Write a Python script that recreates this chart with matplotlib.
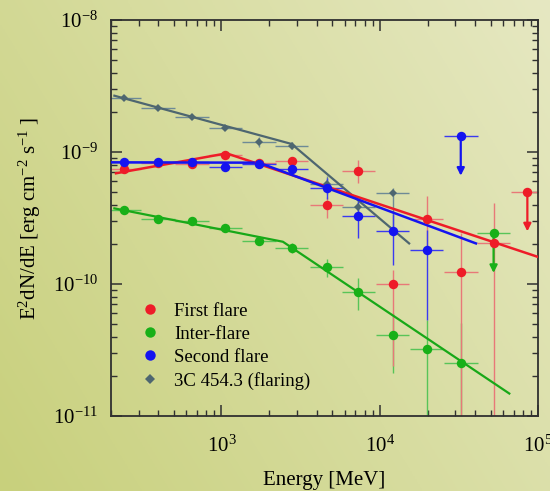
import numpy as np
import matplotlib
matplotlib.use("Agg")
import matplotlib.pyplot as plt
from matplotlib.lines import Line2D
from matplotlib.colors import to_rgb

plt.rcParams['font.family'] = ['Liberation Serif', 'DejaVu Serif']
plt.rcParams['mathtext.fontset'] = 'custom'
plt.rcParams['mathtext.rm'] = 'Liberation Serif'
plt.rcParams['mathtext.it'] = 'Liberation Serif:italic'
plt.rcParams['mathtext.bf'] = 'Liberation Serif:bold'

# ---------------- data ----------------
bin_half_dex = 0.106  # half width of energy bins (log10)

# First flare
red_E = [244, 398, 653, 1060, 1730, 2770, 4610, 7310, 12050, 19700, 32400, 52200]
red_F = [7.43e-10, 8.2e-10, 8.1e-10, 9.49e-10, 8.2e-10, 8.55e-10, 3.96e-10, 7.18e-10,
         1.0e-10, 3.13e-10, 1.23e-10, 2.03e-10]
red_lo = [7.1e-10, 7.9e-10, 7.8e-10, 9.1e-10, 7.8e-10, 7.9e-10, 3.15e-10, 5.79e-10,
          2.4e-11, 1.9e-10, 1e-12, 1e-12]
red_hi = [7.8e-10, 8.5e-10, 8.4e-10, 9.9e-10, 8.6e-10, 9.2e-10, 4.58e-10, 8.69e-10,
          1.28e-10, 4.65e-10, 2.42e-10, 4.08e-10]
red_ul_E = [85300]
red_ul_F = [5.0e-10]

# Inter-flare
green_E = [244, 398, 653, 1060, 1730, 2770, 4610, 7310, 12050, 19700, 32400]
green_F = [3.66e-10, 3.09e-10, 3.0e-10, 2.65e-10, 2.12e-10, 1.88e-10, 1.35e-10, 8.75e-11,
           4.13e-11, 3.2e-11, 2.5e-11]
green_lo = [3.55e-10, 2.98e-10, 2.88e-10, 2.53e-10, 1.98e-10, 1.72e-10, 1.13e-10, 6.3e-11,
            2.1e-11, 1e-12, 1e-12]
green_hi = [3.78e-10, 3.2e-10, 3.12e-10, 2.78e-10, 2.27e-10, 2.05e-10, 1.55e-10, 1.12e-10,
            6.0e-11, 5.33e-11, 5.03e-11]
green_ul_E = [52200]
green_ul_F = [2.42e-10]

# Second flare
blue_E = [244, 398, 653, 1060, 1730, 2770, 4610, 7310, 12050, 19700]
blue_F = [8.39e-10, 8.36e-10, 8.36e-10, 7.74e-10, 8.15e-10, 7.43e-10, 5.31e-10, 3.29e-10,
          2.54e-10, 1.81e-10]
blue_lo = [8.1e-10, 8.05e-10, 8.05e-10, 7.4e-10, 7.75e-10, 6.9e-10, 4.4e-10, 2.22e-10,
           1.4e-10, 5.3e-11]
blue_hi = [8.7e-10, 8.67e-10, 8.67e-10, 8.1e-10, 8.55e-10, 8.0e-10, 6.3e-10, 4.32e-10,
           3.4e-10, 2.56e-10]
blue_ul_E = [32400]
blue_ul_F = [1.32e-9]

# 3C 454.3 (flaring)
gray_E = [244, 398, 653, 1060, 1730, 2770, 4610, 7310, 12050]
gray_F = [2.56e-9, 2.15e-9, 1.85e-9, 1.53e-9, 1.20e-9, 1.12e-9, 5.73e-10, 3.81e-10, 4.87e-10]
gray_lo = [2.48e-9, 2.08e-9, 1.79e-9, 1.47e-9, 1.10e-9, 1.05e-9, 4.8e-10, 3.2e-10, 2.65e-10]
gray_hi = [2.64e-9, 2.22e-9, 1.91e-9, 1.59e-9, 1.31e-9, 1.19e-9, 6.6e-10, 4.5e-10, 5.3e-10]

# broken power-law fits (start, break, end)
red_fit_E = [216, 1077, 98600]
red_fit_F = [6.9e-10, 9.77e-10, 1.61e-10]
blue_fit_E = [200, 1726, 40400]
blue_fit_F = [8.35e-10, 8.3e-10, 2.03e-10]
gray_fit_E = [211, 2773, 15300]
gray_fit_F = [2.67e-9, 1.15e-9, 2.03e-10]
green_fit_E = [211, 2443, 65600]
green_fit_F = [3.74e-10, 2.09e-10, 1.48e-11]

labels = ["First flare", "Inter-flare", "Second flare", "3C 454.3 (flaring)"]

# ---------------- figure ----------------
W, H = 550, 491
fig = plt.figure(figsize=(W / 100, H / 100), dpi=100)

# background gradient
bg = fig.add_axes([0, 0, 1, 1], zorder=-10)
nx, ny = 220, 200
xx, yy = np.meshgrid(np.linspace(0, 1, nx), np.linspace(0, 1, ny))
t = np.clip(0.65 * xx + 0.35 * yy, 0, 1)
c0 = np.array(to_rgb('#c8d07c'))
c1 = np.array(to_rgb('#e6e8c2'))
img = c0[None, None, :] * (1 - t[..., None]) + c1[None, None, :] * t[..., None]
bg.imshow(img, origin='lower', extent=[0, 1, 0, 1], aspect='auto')
bg.set_axis_off()

ax = fig.add_axes([110.7 / W, 1 - 416 / H, (538.3 - 110.7) / W, (416 - 20) / H])
ax.patch.set_alpha(0)
ax.set_xscale('log')
ax.set_yscale('log')
ax.set_xlim(200, 1e5)
ax.set_ylim(1e-11, 1e-8)

colors = {
    'red': ('#ee1c28', '#e87878'),
    'green': ('#18b018', '#58c458'),
    'blue': ('#1414f0', '#3a3af0'),
    'gray': ('#4e6670', '#6e8a96'),
}

fac = 10 ** bin_half_dex


def draw_points(E, F, lo, hi, ckey, marker, ms):
    E = np.asarray(E, float)
    F = np.asarray(F, float)
    lo = np.asarray(lo, float)
    hi = np.asarray(hi, float)
    c, ce = colors[ckey]
    ax.errorbar(E, F, xerr=[E - E / fac, E * fac - E], yerr=[F - lo, hi - F],
                fmt='none', ecolor=ce, elinewidth=1.0, capsize=0, zorder=2)
    ax.plot(E, F, linestyle='none', marker=marker, ms=ms, color=c,
            markeredgewidth=0, zorder=4)


def draw_ul(E, F, ckey, ms=6.8):
    c, ce = colors[ckey]
    E = np.asarray(E, float)
    F = np.asarray(F, float)
    ax.errorbar(E, F, xerr=[E - E / fac, E * fac - E], fmt='none', ecolor=ce,
                elinewidth=1.0, capsize=0, zorder=2)
    for e, f in zip(E, F):
        ax.annotate('', xy=(e, f / 10 ** 0.30), xytext=(e, f),
                    arrowprops=dict(arrowstyle='-|>', color=c, lw=1.6,
                                    mutation_scale=11, shrinkA=0, shrinkB=0),
                    zorder=3)
    ax.plot(E, F, linestyle='none', marker='o', ms=ms, color=c,
            markeredgewidth=0, zorder=4)


# fit lines
ax.plot(green_fit_E, green_fit_F, color='#18a818', lw=1.6, zorder=3)
ax.plot(gray_fit_E, gray_fit_F, color=colors['gray'][0], lw=1.6, zorder=3)
ax.plot(red_fit_E, red_fit_F, color='#ee1c28', lw=1.8, zorder=3)
ax.plot(blue_fit_E, blue_fit_F, color='#1414f0', lw=1.8, zorder=3)

draw_points(gray_E, gray_F, gray_lo, gray_hi, 'gray', 'D', 4.2)
draw_points(green_E, green_F, green_lo, green_hi, 'green', 'o', 6.8)
draw_points(red_E, red_F, red_lo, red_hi, 'red', 'o', 6.8)
draw_points(blue_E, blue_F, blue_lo, blue_hi, 'blue', 'o', 6.8)
draw_ul(red_ul_E, red_ul_F, 'red')
draw_ul(green_ul_E, green_ul_F, 'green')
draw_ul(blue_ul_E, blue_ul_F, 'blue')

# axes styling
for s in ax.spines.values():
    s.set_color('#303030')
    s.set_linewidth(1.3)
ax.tick_params(which='both', direction='in', top=True, right=True, colors='#303030')
ax.tick_params(which='major', length=8, width=1.1, pad=9, labelsize=15, labelcolor='black')
ax.tick_params(which='minor', length=4.5, width=1.0)
ax.tick_params(axis='x', which='major', pad=14)

ax.set_xlabel('Energy [MeV]', fontsize=15, labelpad=10)
ax.set_ylabel(r'E$^{2}$dN/dE [erg cm$^{-2}$ s$^{-1}$ ]', fontsize=15, labelpad=7)

handles = [
    Line2D([], [], linestyle='none', marker='o', ms=7.5, color=colors['red'][0], markeredgewidth=0),
    Line2D([], [], linestyle='none', marker='o', ms=7.5, color=colors['green'][0], markeredgewidth=0),
    Line2D([], [], linestyle='none', marker='o', ms=7.5, color=colors['blue'][0], markeredgewidth=0),
    Line2D([], [], linestyle='none', marker='D', ms=5, color=colors['gray'][0], markeredgewidth=0),
]
ax.legend(handles, labels, loc='lower left', bbox_to_anchor=(0.070, 0.066),
          frameon=False, fontsize=13.5, handlelength=1.0, handletextpad=0.8,
          labelspacing=0.32, borderpad=0, borderaxespad=0)

fig.savefig('out.png', dpi=100)
